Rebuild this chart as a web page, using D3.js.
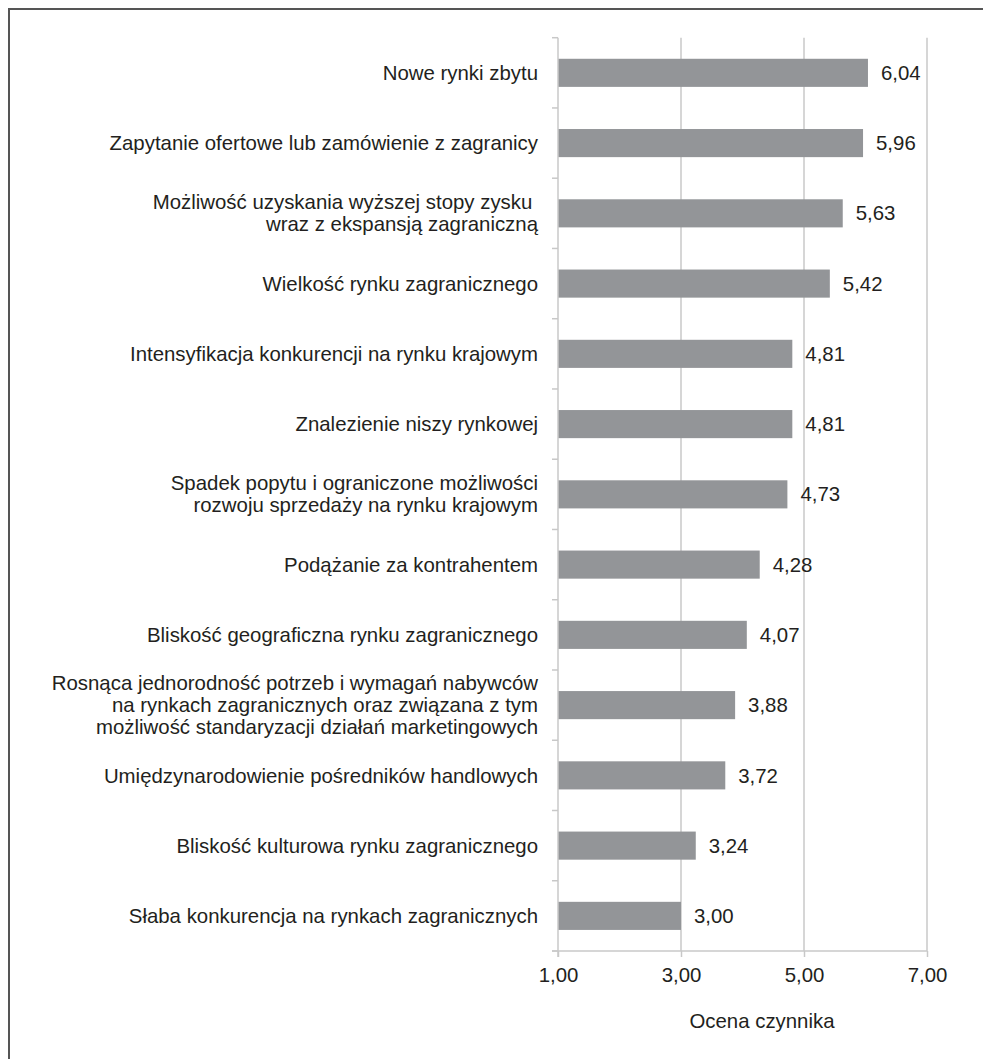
<!DOCTYPE html>
<html><head><meta charset="utf-8">
<script src="https://cdn.jsdelivr.net/npm/d3@7"></script>
<style>body{margin:0;background:#fff}svg{display:block}</style>
</head><body>
<script>
const categories = [
  ["Nowe rynki zbytu"],
  ["Zapytanie ofertowe lub zamówienie z zagranicy"],
  ["Możliwość uzyskania wyższej stopy zysku ", "wraz z ekspansją zagraniczną"],
  ["Wielkość rynku zagranicznego"],
  ["Intensyfikacja konkurencji na rynku krajowym"],
  ["Znalezienie niszy rynkowej"],
  ["Spadek popytu i ograniczone możliwości", "rozwoju sprzedaży na rynku krajowym"],
  ["Podążanie za kontrahentem"],
  ["Bliskość geograficzna rynku zagranicznego"],
  ["Rosnąca jednorodność potrzeb i wymagań nabywców", "na rynkach zagranicznych oraz związana z tym", "możliwość standaryzacji działań marketingowych"],
  ["Umiędzynarodowienie pośredników handlowych"],
  ["Bliskość kulturowa rynku zagranicznego"],
  ["Słaba konkurencja na rynkach zagranicznych"]
];
const values = [6.04, 5.96, 5.63, 5.42, 4.81, 4.81, 4.73, 4.28, 4.07, 3.88, 3.72, 3.24, 3.00];
const xTicks = [1, 3, 5, 7];
const axisTitle = "Ocena czynnika";

(function () {
const W = 983, H = 1059;
const svg = d3.select("body").append("svg").attr("width", W).attr("height", H);
const font = "'Liberation Sans', Arial, sans-serif";
const fs = "20.4px";
const textColor = "#231f20";
const gridColor = "#c8c8c8";

svg.append("rect").attr("x", 9).attr("y", 9).attr("width", W + 20).attr("height", H + 20)
  .attr("fill", "none").attr("stroke", "#555").attr("stroke-width", 2);

const pLeft = 558, pRight = 927, pTop = 37.7, pBottom = 951;
const x = d3.scaleLinear().domain([1, 7]).range([pLeft, pRight]);
const y = d3.scaleBand().domain(d3.range(categories.length)).range([pTop, pBottom]).paddingInner(0.6).paddingOuter(0.3);

const g = svg.append("g");

g.selectAll("line.grid").data(xTicks.slice(1)).join("line")
  .attr("x1", d => x(d)).attr("x2", d => x(d)).attr("y1", pTop).attr("y2", pBottom)
  .attr("stroke", gridColor).attr("stroke-width", 1.5);

g.selectAll("rect.bar").data(values).join("rect")
  .attr("x", x(1)).attr("y", (d, i) => y(i))
  .attr("width", d => x(d) - x(1)).attr("height", y.bandwidth())
  .attr("fill", "#939598");

const step = (pBottom - pTop) / categories.length;
g.append("line").attr("x1", pLeft).attr("x2", pLeft).attr("y1", pTop).attr("y2", pBottom + 6)
  .attr("stroke", gridColor).attr("stroke-width", 1.5);
g.selectAll("line.ytick").data(d3.range(categories.length + 1)).join("line")
  .attr("x1", pLeft - 6).attr("x2", pLeft).attr("y1", i => pTop + i * step).attr("y2", i => pTop + i * step)
  .attr("stroke", gridColor).attr("stroke-width", 1.5);

const xAxis = d3.axisBottom(x).tickValues(xTicks).tickSize(6).tickSizeOuter(0)
  .tickFormat(d => d3.format(".2f")(d).replace(".", ","));
const ax = g.append("g").attr("transform", `translate(0,${pBottom})`).call(xAxis);
ax.select(".domain").attr("stroke", gridColor).attr("stroke-width", 1.5).attr("d", `M${pLeft - 6},0H${pRight}`);
ax.selectAll(".tick line").attr("stroke", gridColor).attr("stroke-width", 1.5);
ax.selectAll(".tick text").attr("y", 31).attr("dy", "0").attr("fill", textColor)
  .style("font-family", font).style("font-size", fs);

g.selectAll("text.val").data(values).join("text")
  .attr("x", d => x(d) + 13).attr("y", (d, i) => y(i) + y.bandwidth() / 2)
  .attr("dy", "0.35em").attr("fill", textColor)
  .style("font-family", font).style("font-size", fs)
  .text(d => d3.format(".2f")(d).replace(".", ","));

categories.forEach((lines, i) => {
  const cy = y(i) + y.bandwidth() / 2;
  const lh = 22;
  const t = g.append("text").attr("text-anchor", "end").attr("fill", textColor)
    .style("font-family", font).style("font-size", fs);
  lines.forEach((ln, j) => {
    t.append("tspan").attr("x", 538).attr("y", cy + (j - (lines.length - 1) / 2) * lh)
      .attr("dy", "0.35em").style("white-space", "pre").text(ln);
  });
});

svg.append("text").attr("x", 762).attr("y", 1028).attr("text-anchor", "middle")
  .attr("fill", textColor).style("font-family", font).style("font-size", fs).text(axisTitle);
})();
</script>
</body></html>
